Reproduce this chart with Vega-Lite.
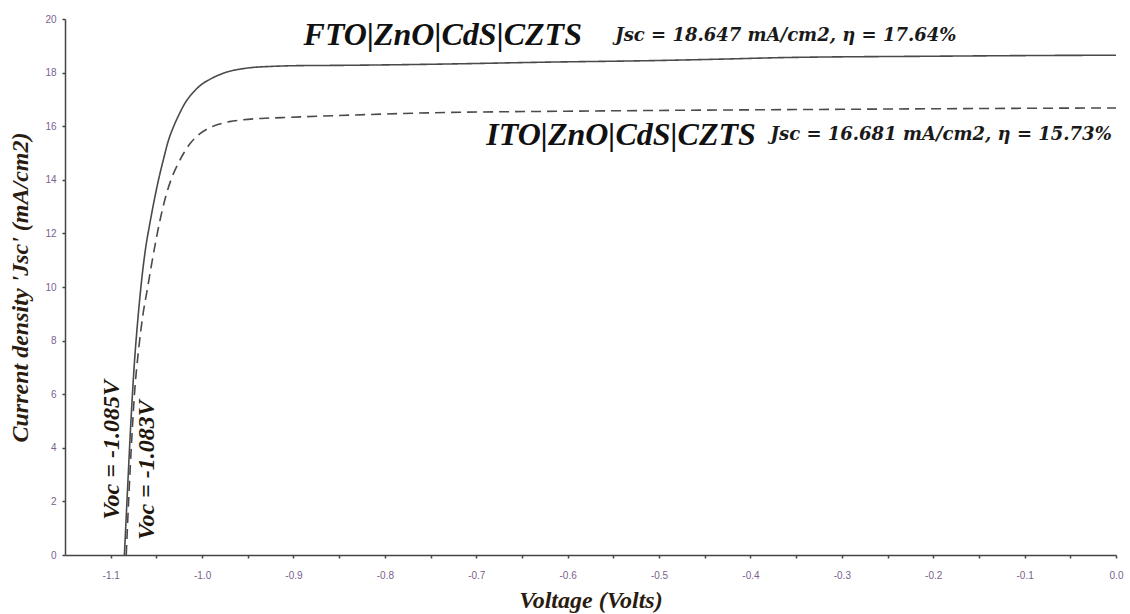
{
  "$schema": "https://vega.github.io/schema/vega-lite/v6.json",
  "width": 1051,
  "height": 536,
  "autosize": {"type": "none"},
  "padding": {"left": 65, "top": 19, "right": 14, "bottom": 59},
  "background": "white",
  "config": {"view": {"stroke": null}},
  "datasets": {
    "curves": [
      {"cell": "FTO", "V": -1.085, "J": 0},
      {"cell": "FTO", "V": -1.0815, "J": 2.5},
      {"cell": "FTO", "V": -1.078, "J": 4.9},
      {"cell": "FTO", "V": -1.074, "J": 7.2},
      {"cell": "FTO", "V": -1.07, "J": 8.9},
      {"cell": "FTO", "V": -1.066, "J": 10.3},
      {"cell": "FTO", "V": -1.062, "J": 11.4},
      {"cell": "FTO", "V": -1.057, "J": 12.4},
      {"cell": "FTO", "V": -1.052, "J": 13.3},
      {"cell": "FTO", "V": -1.047, "J": 14.1},
      {"cell": "FTO", "V": -1.042, "J": 14.8},
      {"cell": "FTO", "V": -1.037, "J": 15.45},
      {"cell": "FTO", "V": -1.031, "J": 16.0},
      {"cell": "FTO", "V": -1.025, "J": 16.45},
      {"cell": "FTO", "V": -1.018, "J": 16.9},
      {"cell": "FTO", "V": -1.01, "J": 17.25},
      {"cell": "FTO", "V": -1.002, "J": 17.52},
      {"cell": "FTO", "V": -0.993, "J": 17.72},
      {"cell": "FTO", "V": -0.985, "J": 17.86},
      {"cell": "FTO", "V": -0.973, "J": 18.02},
      {"cell": "FTO", "V": -0.96, "J": 18.12},
      {"cell": "FTO", "V": -0.945, "J": 18.19},
      {"cell": "FTO", "V": -0.925, "J": 18.23},
      {"cell": "FTO", "V": -0.894, "J": 18.26},
      {"cell": "FTO", "V": -0.85, "J": 18.27},
      {"cell": "FTO", "V": -0.733, "J": 18.32},
      {"cell": "FTO", "V": -0.623, "J": 18.39},
      {"cell": "FTO", "V": -0.503, "J": 18.45},
      {"cell": "FTO", "V": -0.423, "J": 18.51},
      {"cell": "FTO", "V": -0.365, "J": 18.56},
      {"cell": "FTO", "V": -0.204, "J": 18.61},
      {"cell": "FTO", "V": -0.032, "J": 18.645},
      {"cell": "FTO", "V": 0.0, "J": 18.647},
      {"cell": "ITO", "V": -1.083, "J": 0},
      {"cell": "ITO", "V": -1.08, "J": 2.3},
      {"cell": "ITO", "V": -1.077, "J": 4.3},
      {"cell": "ITO", "V": -1.074, "J": 6.0},
      {"cell": "ITO", "V": -1.0695, "J": 7.65},
      {"cell": "ITO", "V": -1.065, "J": 8.9},
      {"cell": "ITO", "V": -1.06, "J": 9.9},
      {"cell": "ITO", "V": -1.0555, "J": 10.8},
      {"cell": "ITO", "V": -1.051, "J": 11.65},
      {"cell": "ITO", "V": -1.046, "J": 12.5},
      {"cell": "ITO", "V": -1.04, "J": 13.35},
      {"cell": "ITO", "V": -1.034, "J": 14.0},
      {"cell": "ITO", "V": -1.027, "J": 14.55},
      {"cell": "ITO", "V": -1.02, "J": 15.0},
      {"cell": "ITO", "V": -1.012, "J": 15.4},
      {"cell": "ITO", "V": -1.003, "J": 15.7},
      {"cell": "ITO", "V": -0.993, "J": 15.92},
      {"cell": "ITO", "V": -0.982, "J": 16.07},
      {"cell": "ITO", "V": -0.97, "J": 16.17},
      {"cell": "ITO", "V": -0.955, "J": 16.24},
      {"cell": "ITO", "V": -0.935, "J": 16.29},
      {"cell": "ITO", "V": -0.913, "J": 16.32},
      {"cell": "ITO", "V": -0.85, "J": 16.4},
      {"cell": "ITO", "V": -0.75, "J": 16.5},
      {"cell": "ITO", "V": -0.6, "J": 16.56},
      {"cell": "ITO", "V": -0.45, "J": 16.6},
      {"cell": "ITO", "V": -0.3, "J": 16.63},
      {"cell": "ITO", "V": -0.15, "J": 16.66},
      {"cell": "ITO", "V": 0.0, "J": 16.681}
    ],
    "bigLabels": [
      {"V": -0.889, "J": 19.4, "text": "FTO|ZnO|CdS|CZTS"},
      {"V": -0.689, "J": 15.67, "text": "ITO|ZnO|CdS|CZTS"}
    ],
    "smallLabels": [
      {"V": -0.548, "J": 19.35, "text": "Jsc = 18.647 mA/cm2, η = 17.64%"},
      {"V": -0.378, "J": 15.67, "text": "Jsc = 16.681 mA/cm2, η = 15.73%"}
    ],
    "vocLabels": [
      {"V": -1.099, "J": 3.92, "text": "Voc = -1.085V"},
      {"V": -1.0607, "J": 3.17, "text": "Voc = -1.083V"}
    ]
  },
  "layer": [
    {
      "data": {"name": "curves"},
      "mark": {"type": "line", "strokeWidth": 1.6, "color": "#4a4a4a", "interpolate": "monotone", "clip": true},
      "encoding": {
        "x": {
          "field": "V", "type": "quantitative",
          "scale": {"domain": [-1.15, 0], "nice": false, "zero": false},
          "axis": {
            "values": [-1.1, -1.05, -1.0, -0.95, -0.9, -0.85, -0.8, -0.75, -0.7, -0.65, -0.6, -0.55, -0.5, -0.45, -0.4, -0.35, -0.3, -0.25, -0.2, -0.15, -0.1, -0.05, 0.0],
            "labelExpr": "abs(datum.value*10 - round(datum.value*10)) < 0.01 ? replace(format(datum.value, '.1f'), '−', '-') : ''",
            "title": "Voltage (Volts)",
            "titleFont": "Liberation Serif", "titleFontStyle": "italic", "titleFontWeight": "bold",
            "titleFontSize": 24, "titleColor": "#2a1c10", "titlePadding": 8,
            "labelFont": "Liberation Sans", "labelFontSize": 10, "labelColor": "#7a5f8e", "labelPadding": 12,
            "domainColor": "#444444", "domainWidth": 1.5,
            "tickColor": "#444444", "tickSize": 3, "tickWidth": 1.5, "tickOffset": 0,
            "grid": false, "labelFlush": false
          }
        },
        "y": {
          "field": "J", "type": "quantitative",
          "scale": {"domain": [0, 20], "nice": false},
          "axis": {
            "values": [0, 1, 2, 3, 4, 5, 6, 7, 8, 9, 10, 11, 12, 13, 14, 15, 16, 17, 18, 19, 20],
            "labelExpr": "datum.value % 2 == 0 ? datum.label : ''",
            "title": "Current density 'Jsc' (mA/cm2)",
            "titleFont": "Liberation Serif", "titleFontStyle": "italic", "titleFontWeight": "bold",
            "titleFontSize": 24, "titleColor": "#2a1c10", "titlePadding": 12,
            "labelFont": "Liberation Sans", "labelFontSize": 10, "labelColor": "#7a5f8e", "labelPadding": 6,
            "domainColor": "#444444", "domainWidth": 1.5,
            "tickColor": "#444444", "tickSize": 3, "tickWidth": 1.5,
            "grid": false, "labelFlush": false
          }
        },
        "strokeDash": {
          "field": "cell", "type": "nominal",
          "scale": {"domain": ["FTO", "ITO"], "range": [[1, 0], [10, 6]]},
          "legend": null
        },
        "detail": {"field": "cell"}
      }
    },
    {
      "data": {"name": "bigLabels"},
      "mark": {"type": "text", "font": "Liberation Serif", "fontStyle": "italic", "fontWeight": "bold", "fontSize": 32, "color": "#111111", "align": "left", "baseline": "middle"},
      "encoding": {
        "x": {"field": "V", "type": "quantitative"},
        "y": {"field": "J", "type": "quantitative"},
        "text": {"field": "text"}
      }
    },
    {
      "data": {"name": "smallLabels"},
      "mark": {"type": "text", "font": "DejaVu Serif", "fontStyle": "italic", "fontWeight": "bold", "fontSize": 18, "color": "#1a1a1a", "align": "left", "baseline": "middle"},
      "encoding": {
        "x": {"field": "V", "type": "quantitative"},
        "y": {"field": "J", "type": "quantitative"},
        "text": {"field": "text"}
      }
    },
    {
      "data": {"name": "vocLabels"},
      "mark": {"type": "text", "font": "Liberation Serif", "fontStyle": "italic", "fontWeight": "bold", "fontSize": 24, "color": "#22160c", "align": "center", "baseline": "middle", "angle": 270},
      "encoding": {
        "x": {"field": "V", "type": "quantitative"},
        "y": {"field": "J", "type": "quantitative"},
        "text": {"field": "text"}
      }
    }
  ]
}
